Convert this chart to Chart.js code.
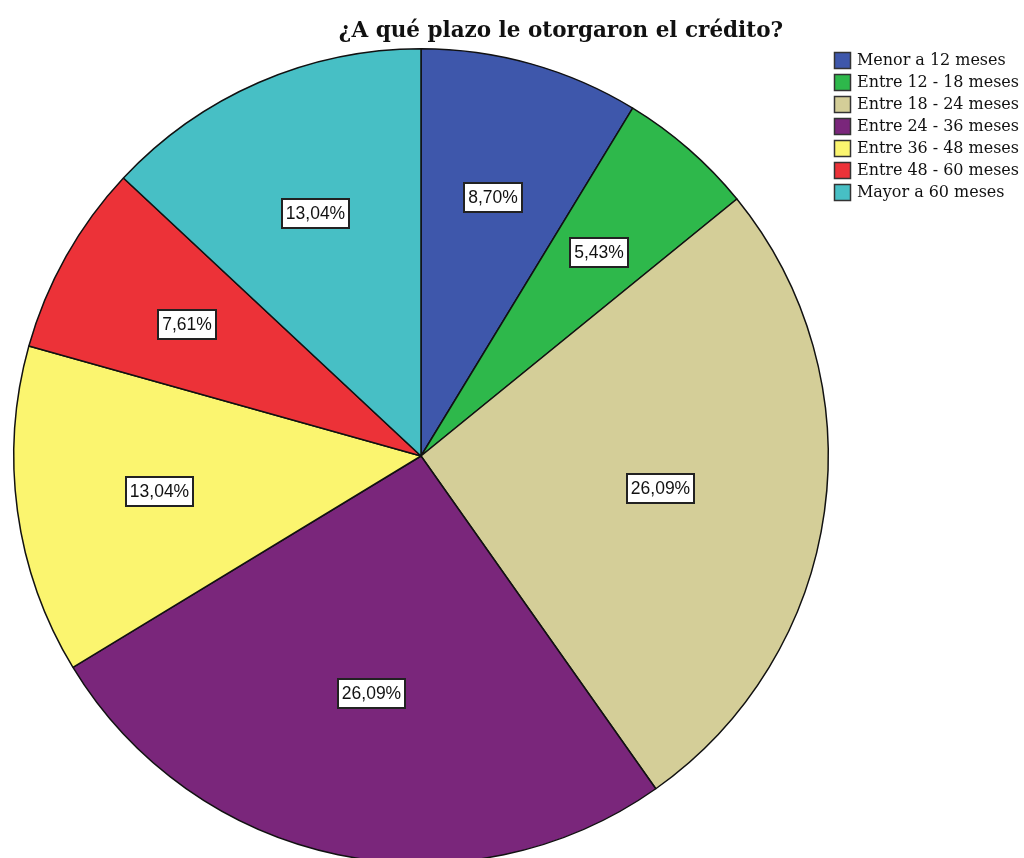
<!DOCTYPE html>
<html lang="es">
<head>
<meta charset="utf-8">
<title>Plazo del crédito</title>
<script src="https://cdn.jsdelivr.net/npm/chart.js@4/dist/chart.umd.min.js"></script>
<style>
    html, body { margin: 0; padding: 0; background: #fff; overflow: hidden; }
    #wrap { position: absolute; left: 0; top: 0; width: 1024px; height: 880px; }
</style>
</head>
<body>
<div id="wrap"><canvas id="plazoChart" width="1024" height="880"></canvas></div>
<script>
/* ── DATA ───────────────────────────────────── */
const chartTitle = '¿A qué plazo le otorgaron el crédito?';
const categories = [
    'Menor a 12 meses',
    'Entre 12 - 18 meses',
    'Entre 18 - 24 meses',
    'Entre 24 - 36 meses',
    'Entre 36 - 48 meses',
    'Entre 48 - 60 meses',
    'Mayor a 60 meses'
];
const percentages = [8.70, 5.43, 26.09, 26.09, 13.04, 7.61, 13.04];
const sliceColors = ['#3e57ab', '#2eb84b', '#d4ce98', '#7a267b', '#fbf56f', '#ec3238', '#47bfc5'];

/* ── TITLE + LEGEND ─────────────────────────── */
const headerPlugin = {
    id: 'header',
    afterDraw(chart) {
        const ctx = chart.ctx;
        ctx.save();
        ctx.fillStyle = '#111';
        ctx.font = 'bold 21.5px "DejaVu Serif"';
        ctx.textAlign = 'center';
        ctx.textBaseline = 'alphabetic';
        ctx.fillText(chartTitle, 561, 37);

        // legend text stretched so the longest entry spans ~162px
        ctx.font = '16px "DejaVu Serif"';
        const widest = Math.max(...categories.map(c => ctx.measureText(c).width));
        ctx.letterSpacing = ((162 - widest) / 19).toFixed(2) + 'px';
        ctx.textAlign = 'left';
        ctx.textBaseline = 'middle';
        categories.forEach((name, i) => {
            const y = 60 + i * 22;
            ctx.fillStyle = sliceColors[i];
            ctx.fillRect(834, y - 8, 17, 17);
            ctx.strokeStyle = '#333';
            ctx.lineWidth = 1.5;
            ctx.strokeRect(834.5, y - 7.5, 16, 16);
            ctx.fillStyle = '#111';
            ctx.fillText(name, 857, y + 1);
        });
        ctx.restore();
    }
};

/* ── VALUE BOXES ────────────────────────────── */
const valueBoxPlugin = {
    id: 'valueBoxes',
    afterDatasetsDraw(chart) {
        const ctx = chart.ctx;
        const meta = chart.getDatasetMeta(0);
        ctx.save();
        ctx.font = '17.5px "Liberation Sans"';
        ctx.textAlign = 'center';
        ctx.textBaseline = 'middle';
        meta.data.forEach((arc, i) => {
            const { x, y, startAngle, endAngle, outerRadius } = arc.getProps(['x', 'y', 'startAngle', 'endAngle', 'outerRadius'], true);
            const half = (endAngle - startAngle) / 2;
            const mid = startAngle + half;
            // centroid of the slice
            const d = 2 * outerRadius * Math.sin(half) / (3 * half);
            const cx = x + Math.cos(mid) * d;
            const cy = y + Math.sin(mid) * d;
            const text = percentages[i].toFixed(2).replace('.', ',') + '%';
            const w = Math.round(ctx.measureText(text).width + 8);
            const h = 29;
            const bx = Math.round(cx - w / 2);
            const by = Math.round(cy - h / 2);
            ctx.fillStyle = '#fff';
            ctx.fillRect(bx, by, w, h);
            ctx.strokeStyle = '#222';
            ctx.lineWidth = 2;
            ctx.strokeRect(bx, by, w, h);
            ctx.fillStyle = '#111';
            ctx.fillText(text, bx + w / 2, by + h / 2 + 1);
        });
        ctx.restore();
    }
};

new Chart(document.getElementById('plazoChart'), {
    type: 'pie',
    data: {
        labels: categories,
        datasets: [{
            data: percentages,
            backgroundColor: sliceColors,
            borderColor: '#111',
            borderWidth: 1.5
        }]
    },
    options: {
        responsive: false,
        animation: false,
        layout: { padding: { left: 13, top: 48, right: 195, bottom: 16 } },
        plugins: {
            legend: { display: false },
            title: { display: false },
            tooltip: { enabled: false }
        }
    },
    plugins: [valueBoxPlugin, headerPlugin]
});
</script>
</body>
</html>
